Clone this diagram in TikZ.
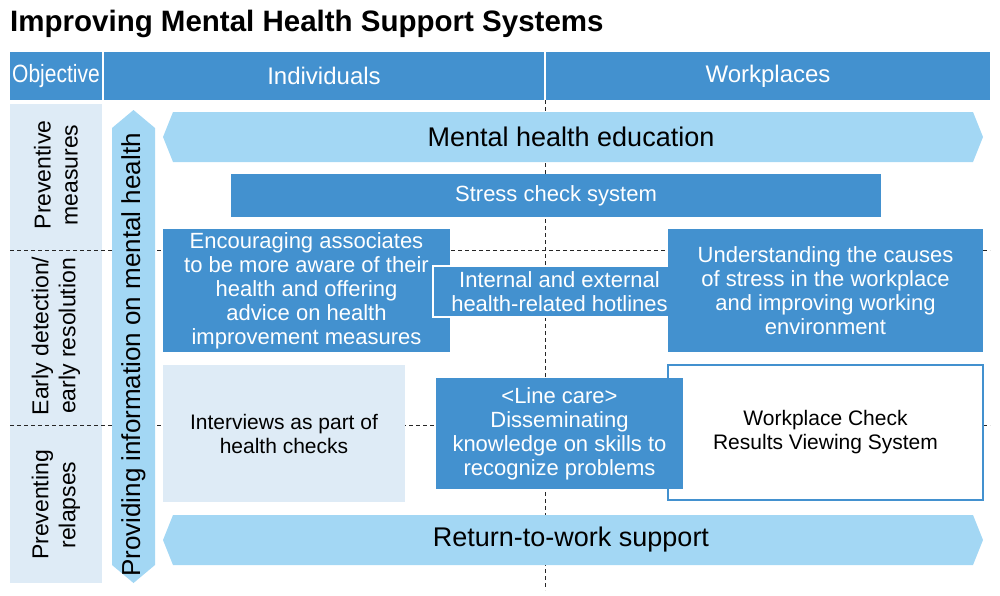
\documentclass[tikz,border=0pt]{standalone}
\usepackage{fontspec}
\setmainfont{Liberation Sans}
\newfontfamily\narrowfont[FakeStretch=0.84]{Liberation Sans}
\definecolor{headblue}{HTML}{4391CF}
\definecolor{bandblue}{HTML}{A3D7F4}
\definecolor{paleblue}{HTML}{DEEBF6}

\begin{document}
\begin{tikzpicture}[
        x=1pt, y=-1pt,
        box text/.style={font=\fontsize{21}{24}\selectfont, align=center},
        plain box/.style={anchor=north west, inner sep=0pt, outer sep=0pt, box text},
        dark box/.style={plain box, fill=headblue, text=white, font=\fontsize{22}{24}\selectfont},
        pale box/.style={plain box, fill=paleblue, text=black},
        open box/.style={plain box, fill=white, draw=headblue, line width=1.5pt, text=black},
        head cell/.style={plain box, fill=headblue, text=white, minimum height=48pt, font=\fontsize{24}{28}\selectfont},
        guide line/.style={black!85, line width=0.8pt, dash pattern=on 4pt off 3pt},
    ]

    % Rahmen
    \useasboundingbox (0,0) rectangle (1000,595);

    % Titel
    \node[anchor=base west, inner sep=0pt, font=\bfseries\fontsize{29.5}{34}\selectfont] (title) at (10,31) {Improving Mental Health Support Systems};

    % Kopfzeile
    \node[head cell, minimum width=92pt, font=\narrowfont\fontsize{25}{28}\selectfont] (head-obj) at (10,52) {Objective};
    \foreach \xpos/\cellw/\txt/\name in {104/440/Individuals/ind, 546/444/Workplaces/work} {
        \node[head cell, minimum width=\cellw pt] (head-\name) at (\xpos,52) {\txt};
    }

    % linke Spalte
    \fill[paleblue] (10,104) rectangle (102,583);

    % Hilfslinien
    \foreach \ypos in {250,425} {
        \draw[guide line] (10,\ypos) -- (990,\ypos);
    }
    \draw[guide line] (545,100) -- (545,590);

    % Zielbeschriftungen
    \foreach \ypos/\txt [count=\i] in {175/{Preventive\\measures}, 336/{Early detection/\\early resolution}, 505/{Preventing\\relapses}} {
        \node[rotate=90, align=center, inner sep=0pt, font=\fontsize{23}{27}\selectfont] (obj-\i) at (56,\ypos) {\txt};
    }

    % senkrechter Pfeil
    \fill[bandblue] (133.5,110) -- (155,128) -- (155,565) -- (133.5,583) -- (112,565) -- (112,128) -- cycle;
    \node[rotate=90, inner sep=0pt, font=\fontsize{26}{28}\selectfont] (info) at (133.5,355) {Providing information on mental health};

    % waagrechte Baender
    \foreach \ymid/\txt/\name in {137/Mental health education/edu, 540/Return-to-work support/rtw} {
        \fill[bandblue] (163,\ymid) -- (173,\ymid-25) -- (973,\ymid-25) -- (983,\ymid) -- (973,\ymid+25) -- (173,\ymid+25) -- cycle;
        \node[inner sep=0pt, font=\fontsize{27}{28}\selectfont] (\name) at (571,\ymid) {\txt};
    }

    % Kaesten
    \node[dark box, minimum width=650pt, minimum height=43pt] (stress) at (231,174) {Stress check system};
    \node[dark box, minimum width=287pt, minimum height=123pt] (aware) at (163,229)
        {Encouraging associates\\to be more aware of their\\health and offering\\advice on health\\improvement measures};
    \node[dark box, minimum width=253pt, minimum height=51pt, draw=white, line width=1.5pt] (hotline) at (433,266)
        {Internal and external\\health-related hotlines};
    \node[dark box, minimum width=315pt, minimum height=123pt] (causes) at (668,229)
        {Understanding the causes\\of stress in the workplace\\and improving working\\environment};
    \node[pale box, minimum width=242pt, minimum height=137pt] (interview) at (163,365)
        {Interviews as part of\\health checks};
    \node[open box, minimum width=315pt, minimum height=135pt] (viewing) at (668,365)
        {Workplace Check\\Results Viewing System};
    \node[dark box, minimum width=247pt, minimum height=111pt] (linecare) at (436,378)
        {<Line care>\\Disseminating\\knowledge on skills to\\recognize problems};

\end{tikzpicture}
\end{document}
